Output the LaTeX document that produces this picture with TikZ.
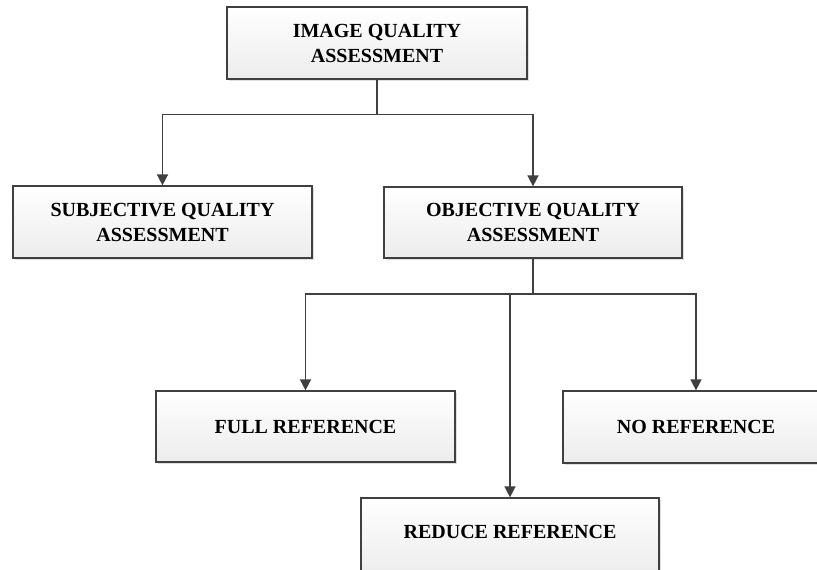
\documentclass[tikz,border=0pt]{standalone}
\usepackage{fontspec}
\setmainfont{Liberation Serif}
\usetikzlibrary{arrows.meta,shadows}

\definecolor{edge}{HTML}{404040}
\definecolor{boxbottom}{HTML}{ECECEC}

\tikzset{
  box/.style={
    draw=edge, line width=1.2pt, rectangle,
    top color=white, bottom color=boxbottom,
    drop shadow={shadow xshift=2pt, shadow yshift=-2pt, opacity=0.25},
    align=center, inner sep=0pt,
    font=\fontsize{20}{25}\selectfont\bfseries
  },
  link/.style={draw=edge, line width=1.5pt},
  arr/.style={link, -{Triangle[length=11pt,width=11pt]}}
}

\begin{document}
\begin{tikzpicture}[x=1pt, y=-1pt]
  \useasboundingbox (0,0) rectangle (817,570);
  \clip (0,0) rectangle (817,570);

  % boxes
  \node[box, minimum width=300pt, minimum height=72pt] (iqa) at (377,43)
    {IMAGE QUALITY\\ASSESSMENT};
  \node[box, minimum width=299pt, minimum height=72pt] (subj) at (162.5,222)
    {SUBJECTIVE QUALITY\\ASSESSMENT};
  \node[box, minimum width=298pt, minimum height=71pt] (obj) at (533,222.5)
    {OBJECTIVE QUALITY\\ASSESSMENT};
  \node[box, minimum width=299pt, minimum height=71pt] (full) at (305.5,426.5)
    {FULL REFERENCE};
  \node[box, minimum width=266pt, minimum height=72pt] (noref) at (696,427)
    {NO REFERENCE};
  \node[box, minimum width=298pt, minimum height=76pt, text height=14pt,
        text depth=10pt] (reduce) at (510,536)
    {REDUCE REFERENCE};

  % branching points
  \coordinate (j1) at (377,114.5);
  \coordinate (j2) at (533,294);

  % first level
  \draw[link] (iqa.south) -- (j1);
  \draw[arr] (j1) -| (subj.north);
  \draw[arr] (j1) -| (obj.north);

  % second level
  \draw[link] (obj.south) -- (j2);
  \draw[arr] (j2) -| (full.north);
  \draw[arr] (j2) -| (noref.north);
  \draw[arr] (reduce.north |- j2) -- (reduce.north);
\end{tikzpicture}
\end{document}
